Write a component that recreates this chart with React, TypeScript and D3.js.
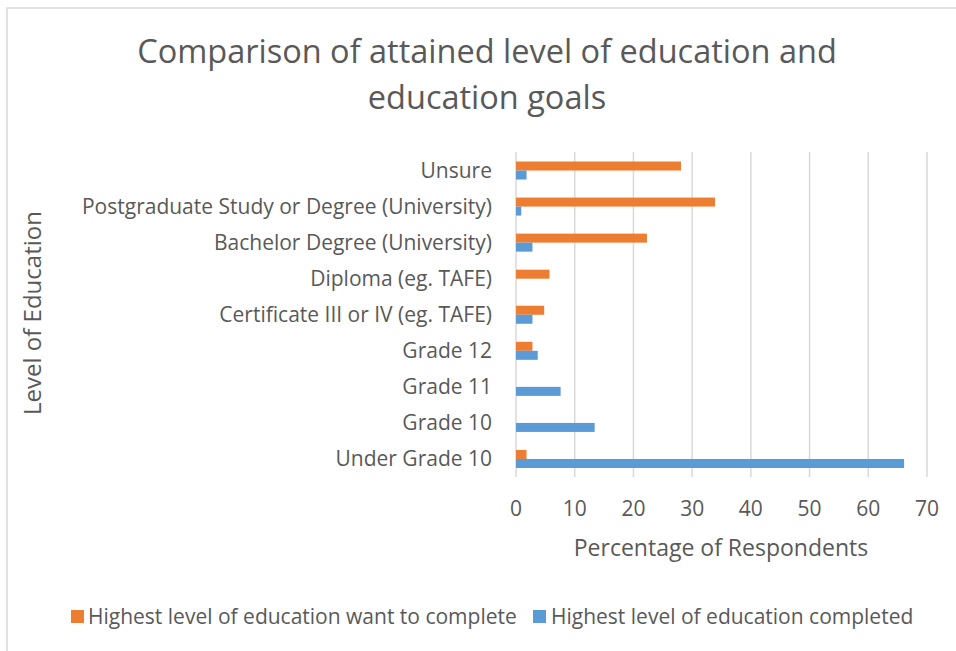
import React from "react";
import * as d3 from "d3";

const categories = [
  "Unsure",
  "Postgraduate Study or Degree (University)",
  "Bachelor Degree (University)",
  "Diploma (eg. TAFE)",
  "Certificate III or IV (eg. TAFE)",
  "Grade 12",
  "Grade 11",
  "Grade 10",
  "Under Grade 10",
];
const wantToComplete = [28.1, 33.9, 22.3, 5.7, 4.8, 2.8, 0, 0, 1.8];
const completed = [1.8, 0.9, 2.8, 0, 2.8, 3.7, 7.6, 13.4, 66.1];
const xTicks = [0, 10, 20, 30, 40, 50, 60, 70];
const seriesNames = ["Highest level of education want to complete", "Highest level of education completed"];
const seriesColors = ["#ED7D31", "#5B9BD5"];

const W = 956;
const H = 651;
const FONT = "'Open Sans', sans-serif";
const TXT = "#595959";

export default function App() {
  const x = d3.scaleLinear().domain([0, 70]).range([516, 927]);
  const y = d3.scaleBand<string>().domain(categories).range([152.5, 477]).paddingInner(0).paddingOuter(0);
  const step = y.step();
  const barH = step / 4;
  const series = [wantToComplete, completed];

  return (
    <svg width={W} height={H} style={{ position: "absolute", left: 0, top: 0, background: "#fff" }} fontFamily={FONT}>
      <rect x={0} y={0} width={W} height={H} fill="#fff" />
      <rect x={7} y={8} width={W + 10} height={H + 10} fill="none" stroke="#d9d9d9" strokeWidth={1.5} />
      <text x={487} y={63} textAnchor="middle" fontSize={32.5} fill={TXT}>
        Comparison of attained level of education and
      </text>
      <text x={487} y={109} textAnchor="middle" fontSize={32.5} fill={TXT}>
        education goals
      </text>
      {xTicks.map((t) => (
        <g key={t}>
          <line x1={x(t)} x2={x(t)} y1={152} y2={477} stroke="#d9d9d9" strokeWidth={1.5} />
          <text x={x(t)} y={516} textAnchor="middle" fontSize={21} fill={TXT}>
            {t}
          </text>
        </g>
      ))}
      {categories.map((c, i) => {
        const y0 = (y(c) as number) + step / 4;
        return (
          <g key={c}>
            {series.map((s, k) => (
              <rect
                key={k}
                x={x(0)}
                y={y0 + k * barH}
                width={x(s[i]) - x(0)}
                height={barH}
                fill={seriesColors[k]}
              />
            ))}
            <text x={492} y={(y(c) as number) + step / 2 + 7} textAnchor="end" fontSize={21} fill={TXT}>
              {c}
            </text>
          </g>
        );
      })}
      <text x={721} y={556} textAnchor="middle" fontSize={23} fill={TXT}>
        Percentage of Respondents
      </text>
      <text transform={`translate(41,313) rotate(-90)`} textAnchor="middle" fontSize={24} fill={TXT}>
        Level of Education
      </text>
      <rect x={71} y={610} width={13} height={13} fill={seriesColors[0]} />
      <text x={88} y={624} fontSize={21} fill={TXT}>
        {seriesNames[0]}
      </text>
      <rect x={533} y={610} width={13} height={13} fill={seriesColors[1]} />
      <text x={551} y={624} fontSize={21} fill={TXT}>
        {seriesNames[1]}
      </text>
    </svg>
  );
}
